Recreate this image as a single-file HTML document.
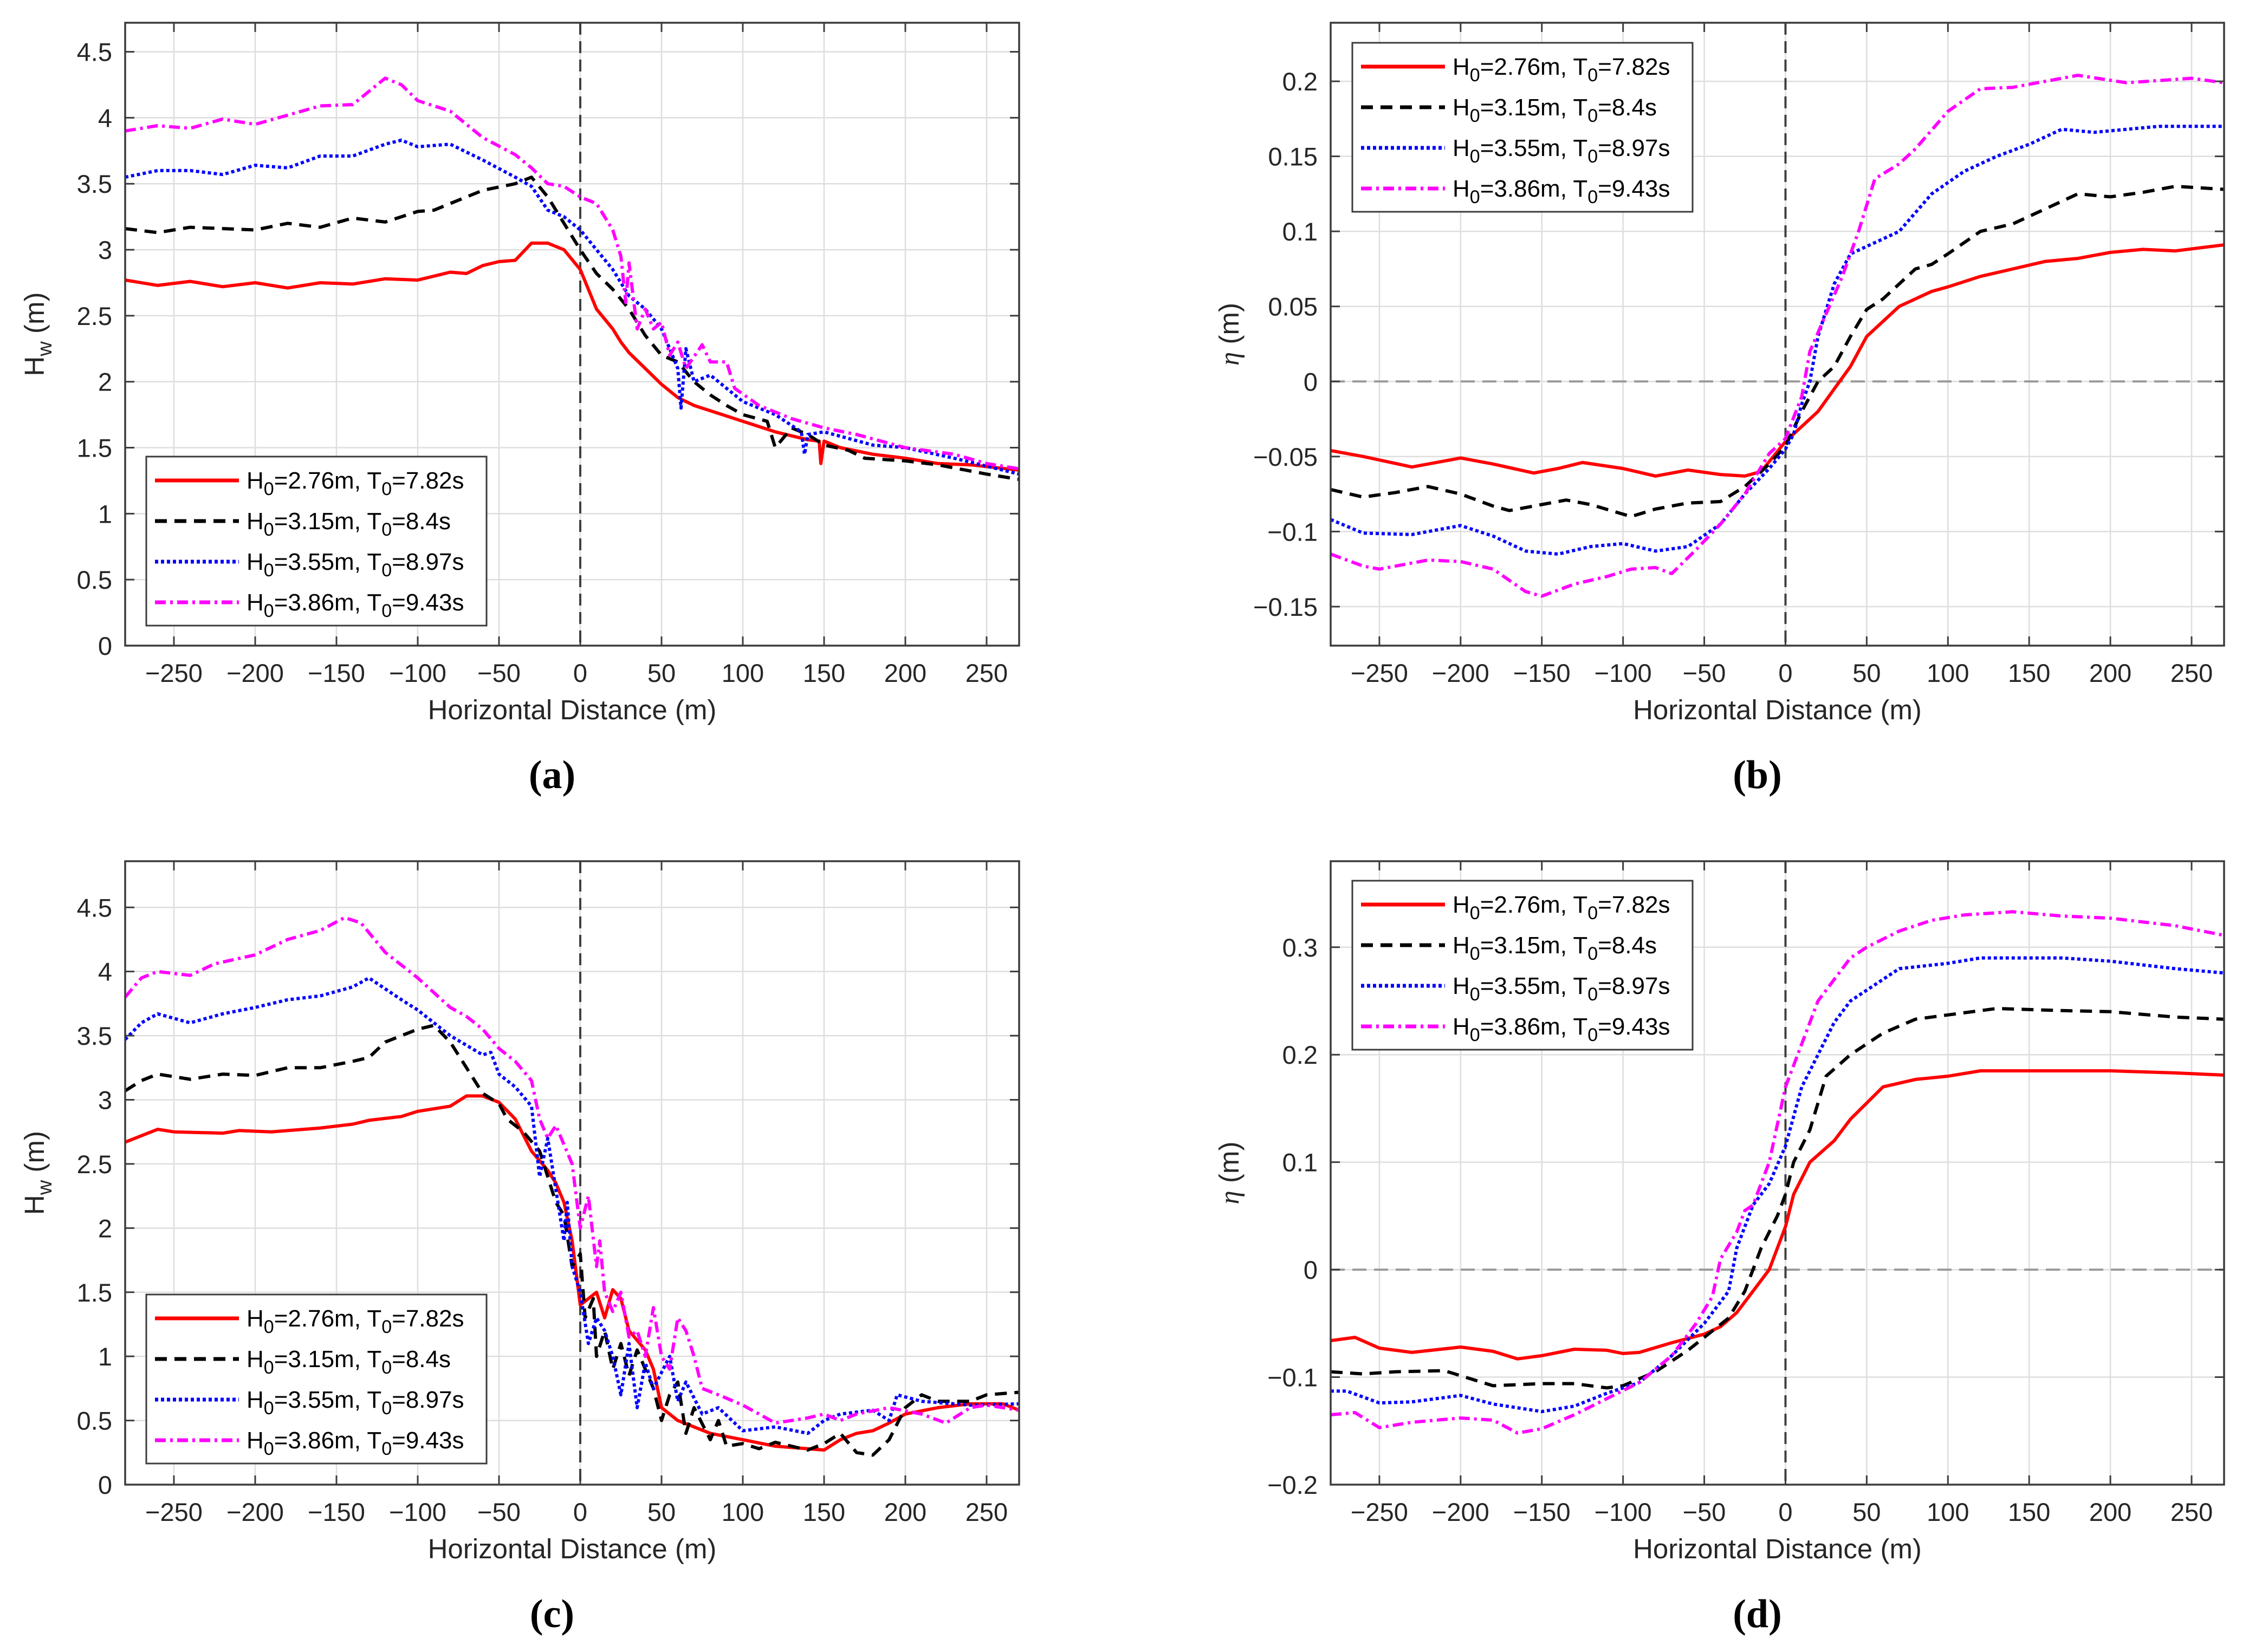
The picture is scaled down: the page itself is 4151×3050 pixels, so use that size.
<!DOCTYPE html>
<html><head><meta charset="utf-8"><style>
html,body{margin:0;padding:0;background:#fff;}
svg{display:block;}
text{font-family:"Liberation Sans",sans-serif;}
</style></head><body>
<svg id="fig" width="4151" height="3050" viewBox="0 0 4151 3050" xmlns="http://www.w3.org/2000/svg"></svg>
<script>
// ---- data (x in m) ----
const aRedX=[-280,-260,-240,-220,-200,-180,-160,-140,-120,-100,-80,-70,-60,-50,-40,-30,-20,-10,0,5,10,20,25,30,40,50,60,70,80,100,120,140,147,148,150,160,180,200,220,240,270];
const aRedY=[2.77,2.73,2.76,2.72,2.75,2.71,2.75,2.74,2.78,2.77,2.83,2.82,2.88,2.91,2.92,3.05,3.05,3.0,2.85,2.7,2.55,2.4,2.3,2.22,2.1,1.98,1.88,1.82,1.78,1.7,1.62,1.56,1.55,1.38,1.55,1.5,1.45,1.42,1.38,1.37,1.33];
const aBlkX=[-280,-260,-240,-200,-180,-160,-140,-120,-100,-90,-80,-60,-40,-30,-20,-10,0,10,20,30,40,50,60,70,80,90,100,115,120,130,140,150,165,175,200,220,250,270];
const aBlkY=[3.16,3.13,3.17,3.15,3.2,3.17,3.24,3.21,3.29,3.3,3.35,3.45,3.5,3.55,3.4,3.2,3.0,2.82,2.7,2.55,2.35,2.2,2.15,2.0,1.9,1.82,1.75,1.7,1.5,1.65,1.6,1.52,1.48,1.42,1.4,1.37,1.3,1.26];
const aBluX=[-280,-260,-240,-220,-200,-180,-160,-140,-120,-110,-100,-80,-60,-40,-30,-20,-10,0,10,20,30,40,50,60,62,65,70,80,90,100,120,136,138,140,150,180,200,230,270];
const aBluY=[3.55,3.6,3.6,3.57,3.64,3.62,3.71,3.71,3.8,3.83,3.78,3.8,3.68,3.55,3.48,3.3,3.25,3.15,3.0,2.85,2.65,2.55,2.4,2.1,1.8,2.25,2.0,2.05,1.95,1.85,1.75,1.62,1.45,1.6,1.62,1.52,1.5,1.42,1.3];
const aMagX=[-280,-260,-240,-220,-200,-180,-160,-140,-130,-120,-110,-100,-80,-60,-40,-30,-20,-10,0,10,20,25,28,30,35,40,45,50,55,60,65,75,80,90,95,110,130,150,170,200,230,250,270];
const aMagY=[3.9,3.94,3.92,3.99,3.95,4.02,4.09,4.1,4.2,4.3,4.25,4.13,4.05,3.85,3.72,3.62,3.5,3.48,3.4,3.35,3.15,2.95,2.6,2.9,2.4,2.55,2.4,2.45,2.2,2.3,2.1,2.28,2.15,2.15,1.95,1.82,1.72,1.65,1.6,1.5,1.45,1.38,1.34];

const bRedX=[-280,-260,-230,-200,-180,-155,-140,-125,-100,-80,-60,-40,-25,-15,0,10,20,30,40,50,60,70,90,100,120,140,160,180,200,220,240,270];
const bRedY=[-0.046,-0.05,-0.057,-0.051,-0.055,-0.061,-0.058,-0.054,-0.058,-0.063,-0.059,-0.062,-0.063,-0.06,-0.04,-0.03,-0.02,-0.005,0.01,0.03,0.04,0.05,0.06,0.063,0.07,0.075,0.08,0.082,0.086,0.088,0.087,0.091];
const bBlkX=[-280,-260,-240,-220,-200,-180,-170,-150,-135,-120,-95,-80,-60,-40,-25,-10,0,10,20,30,40,50,60,70,80,90,100,120,140,160,180,200,220,240,270];
const bBlkY=[-0.072,-0.077,-0.074,-0.07,-0.075,-0.083,-0.086,-0.082,-0.079,-0.082,-0.09,-0.085,-0.081,-0.08,-0.07,-0.055,-0.043,-0.02,0.0,0.01,0.03,0.048,0.055,0.065,0.075,0.078,0.085,0.1,0.105,0.115,0.125,0.123,0.126,0.13,0.128];
const bBluX=[-280,-260,-230,-200,-180,-160,-140,-120,-100,-80,-60,-40,-25,-10,0,5,10,15,20,30,40,50,70,90,110,130,150,170,190,230,270];
const bBluY=[-0.092,-0.101,-0.102,-0.096,-0.103,-0.113,-0.115,-0.11,-0.108,-0.113,-0.11,-0.095,-0.075,-0.058,-0.045,-0.035,-0.015,0.0,0.03,0.065,0.085,0.09,0.1,0.125,0.14,0.15,0.158,0.168,0.166,0.17,0.17];
const bMagX=[-280,-260,-250,-220,-200,-180,-160,-150,-130,-110,-95,-80,-70,-55,-40,-25,-10,0,10,15,25,35,45,55,70,80,100,120,140,160,180,210,250,270];
const bMagY=[-0.115,-0.123,-0.125,-0.119,-0.12,-0.125,-0.14,-0.143,-0.135,-0.13,-0.125,-0.124,-0.128,-0.112,-0.095,-0.075,-0.048,-0.038,-0.01,0.02,0.045,0.07,0.1,0.135,0.145,0.155,0.18,0.195,0.196,0.2,0.204,0.199,0.202,0.199];

const cRedX=[-280,-270,-260,-250,-220,-210,-190,-160,-140,-130,-110,-100,-80,-70,-60,-50,-40,-30,-20,-15,-10,-5,-2,0,5,10,15,20,25,30,40,45,50,60,70,80,100,120,140,150,160,170,180,190,200,220,240,260,270];
const cRedY=[2.67,2.72,2.77,2.75,2.74,2.76,2.75,2.78,2.81,2.84,2.87,2.91,2.95,3.03,3.03,2.98,2.85,2.6,2.45,2.35,2.2,1.9,1.6,1.4,1.45,1.5,1.3,1.52,1.45,1.2,1.05,0.9,0.6,0.5,0.45,0.4,0.35,0.3,0.28,0.27,0.35,0.4,0.42,0.48,0.55,0.6,0.63,0.63,0.58];
const cBlkX=[-280,-270,-260,-240,-220,-200,-180,-160,-140,-130,-120,-100,-90,-80,-70,-60,-50,-45,-35,-25,-20,-15,-10,-5,0,3,8,10,15,20,25,30,35,40,45,50,55,60,65,70,80,85,90,100,110,120,130,140,150,160,170,180,190,200,210,220,240,250,270];
const cBlkY=[3.07,3.15,3.2,3.16,3.2,3.19,3.25,3.25,3.3,3.33,3.45,3.55,3.58,3.45,3.25,3.05,2.97,2.85,2.75,2.6,2.4,2.2,2.1,1.7,1.8,1.3,1.45,1.0,1.2,0.9,1.1,0.85,1.05,0.9,0.75,0.5,0.7,0.8,0.4,0.6,0.35,0.5,0.3,0.32,0.28,0.33,0.3,0.27,0.32,0.4,0.25,0.23,0.35,0.6,0.7,0.65,0.65,0.7,0.72];
const cBluX=[-280,-270,-260,-240,-220,-200,-180,-160,-140,-130,-110,-100,-80,-60,-55,-50,-40,-30,-25,-20,-15,-10,-8,-5,0,5,10,15,20,25,30,35,40,45,55,60,65,75,85,100,120,140,150,160,180,190,195,210,240,270];
const cBluY=[3.47,3.6,3.67,3.6,3.67,3.72,3.78,3.81,3.88,3.95,3.78,3.7,3.5,3.35,3.37,3.2,3.1,2.95,2.4,2.7,2.3,1.9,2.2,1.7,1.5,1.1,1.3,1.2,1.0,0.7,1.1,0.6,0.95,0.75,1.0,0.65,0.8,0.55,0.6,0.42,0.45,0.4,0.5,0.55,0.58,0.5,0.7,0.65,0.62,0.63];
const cMagX=[-280,-270,-260,-240,-225,-200,-180,-160,-145,-135,-120,-100,-80,-70,-60,-50,-40,-30,-25,-20,-15,-5,0,5,10,12,15,20,25,30,35,40,45,50,55,60,65,70,75,85,100,110,120,140,150,160,170,190,210,225,240,250,270];
const cMagY=[3.8,3.95,4.0,3.97,4.06,4.13,4.25,4.32,4.42,4.38,4.15,3.95,3.72,3.65,3.55,3.4,3.3,3.15,2.85,2.7,2.8,2.5,2.0,2.25,1.7,1.9,1.5,1.35,1.5,1.15,1.2,1.0,1.38,1.0,0.9,1.3,1.2,1.0,0.75,0.7,0.62,0.55,0.48,0.52,0.55,0.5,0.55,0.6,0.55,0.48,0.6,0.62,0.58];

const dRedX=[-280,-265,-250,-230,-200,-180,-165,-150,-130,-110,-100,-90,-70,-50,-40,-30,-20,-10,0,5,15,30,40,50,60,80,100,120,160,200,240,270];
const dRedY=[-0.066,-0.063,-0.073,-0.077,-0.072,-0.076,-0.083,-0.08,-0.074,-0.075,-0.078,-0.077,-0.068,-0.06,-0.053,-0.04,-0.02,0.0,0.04,0.07,0.1,0.12,0.14,0.155,0.17,0.177,0.18,0.185,0.185,0.185,0.183,0.181];
const dBlkX=[-280,-260,-240,-210,-180,-150,-130,-110,-100,-80,-60,-45,-35,-25,-15,-5,0,5,15,25,40,60,80,100,130,170,200,240,270];
const dBlkY=[-0.095,-0.097,-0.095,-0.094,-0.108,-0.106,-0.106,-0.11,-0.108,-0.095,-0.075,-0.057,-0.045,-0.02,0.02,0.05,0.07,0.1,0.13,0.18,0.2,0.22,0.233,0.237,0.243,0.241,0.24,0.235,0.233];
const dBluX=[-280,-270,-250,-230,-200,-180,-150,-130,-110,-90,-70,-50,-35,-30,-20,-10,0,10,20,30,40,50,70,100,120,150,170,200,240,270];
const dBluY=[-0.113,-0.113,-0.124,-0.123,-0.117,-0.125,-0.132,-0.127,-0.115,-0.105,-0.08,-0.05,-0.02,0.02,0.06,0.08,0.115,0.17,0.2,0.23,0.25,0.26,0.28,0.285,0.29,0.29,0.29,0.287,0.28,0.276];
const dMagX=[-280,-265,-250,-230,-200,-180,-165,-150,-130,-110,-90,-70,-55,-45,-40,-30,-25,-20,-10,0,10,20,30,40,50,70,90,110,140,170,200,240,270];
const dMagY=[-0.135,-0.133,-0.147,-0.142,-0.138,-0.14,-0.152,-0.148,-0.135,-0.12,-0.105,-0.08,-0.05,-0.025,0.01,0.035,0.055,0.06,0.1,0.17,0.21,0.25,0.27,0.29,0.3,0.315,0.325,0.33,0.333,0.329,0.327,0.32,0.311];

const xTicks=[-250,-200,-150,-100,-50,0,50,100,150,200,250];
const hwTicks=[0,0.5,1,1.5,2,2.5,3,3.5,4,4.5];
const bTicks=[-0.15,-0.1,-0.05,0,0.05,0.1,0.15,0.2];
const dTicks=[-0.2,-0.1,0,0.1,0.2,0.3];
const legendLabels=[["2.76","7.82"],["3.15","8.4"],["3.55","8.97"],["3.86","9.43"]];

const NS="http://www.w3.org/2000/svg";
const fig=document.getElementById('fig');
function mk(tag,attrs,parent){const e=document.createElementNS(NS,tag);for(const k in attrs)e.setAttribute(k,attrs[k]);(parent||fig).appendChild(e);return e;}
const styles=[
 {c:'#ff0000',d:'',n:'red-solid'},
 {c:'#000000',d:'22 14',n:'black-dashed'},
 {c:'#0000ff',d:'6 5',n:'blue-dotted'},
 {c:'#ff00ff',d:'20 8 5 8',n:'magenta-dashdot'}];
function fmt(v){let s=(Math.round(v*1000)/1000).toString();return v<0?'\u2212'+s.slice(1):s;}

function panel(id,L,R,T,B,ymin,ymax,yticks,series,ylab,isEta,leg,plabel){
 const g=mk('g',{});
 
 
 const xmin=-280,xmax=270;
 const X=v=>L+(v-xmin)/(xmax-xmin)*(R-L);
 const Y=v=>B-(v-ymin)/(ymax-ymin)*(B-T);
 // grid
 xTicks.forEach(t=>{const l=mk('line',{x1:X(t),x2:X(t),y1:T,y2:B,stroke:'#dedede','stroke-width':2.5},g);});
 yticks.forEach(t=>{const l=mk('line',{x1:L,x2:R,y1:Y(t),y2:Y(t),stroke:'#dedede','stroke-width':2.5},g);});
 if(isEta){const z=mk('line',{x1:L,x2:R,y1:Y(0),y2:Y(0),stroke:'#9a9a9a','stroke-width':4,'stroke-dasharray':'26 14'},g);}
 const v0=mk('line',{x1:X(0),x2:X(0),y1:T,y2:B,stroke:'#404040','stroke-width':4,'stroke-dasharray':'22 12'},g);
 
 // series
 const clip=mk('clipPath',{id:'clip'+id},g);mk('rect',{x:L,y:T,width:R-L,height:B-T},clip);
 series.forEach((s,i)=>{
  const pts=s[0].map((x,k)=>X(x).toFixed(1)+','+Y(s[1][k]).toFixed(1)).join(' ');
  const p=mk('polyline',{points:pts,fill:'none',stroke:styles[i].c,'stroke-width':6,'stroke-linejoin':'round','clip-path':'url(#clip'+id+')'},g);
  if(styles[i].d)p.setAttribute('stroke-dasharray',styles[i].d);
  
  
 });
 // box
 const bx=mk('rect',{x:L,y:T,width:R-L,height:B-T,fill:'none',stroke:'#3c3c3c','stroke-width':3.5},g);
 
 xTicks.forEach(t=>{
  mk('line',{x1:X(t),x2:X(t),y1:B,y2:B-17,stroke:'#3c3c3c','stroke-width':3},g);
  mk('line',{x1:X(t),x2:X(t),y1:T,y2:T+17,stroke:'#3c3c3c','stroke-width':3},g);
  const tx=mk('text',{x:X(t),y:B+67,'font-size':47,'text-anchor':'middle',fill:'#262626'},g);
  tx.textContent=fmt(t);
 });
 yticks.forEach(t=>{
  mk('line',{x1:L,x2:L+17,y1:Y(t),y2:Y(t),stroke:'#3c3c3c','stroke-width':3},g);
  mk('line',{x1:R,x2:R-17,y1:Y(t),y2:Y(t),stroke:'#3c3c3c','stroke-width':3},g);
  const tx=mk('text',{x:L-24,y:Y(t)+17,'font-size':47,'text-anchor':'end',fill:'#262626'},g);
  tx.textContent=fmt(t);
 });
 const xl=mk('text',{x:(L+R)/2,y:B+136,'font-size':51,'text-anchor':'middle',fill:'#262626'},g);
 xl.textContent='Horizontal Distance (m)';
 const yc=(T+B)/2, yx=isEta?L-170:L-150;
 const yl=mk('text',{x:yx,y:yc,'font-size':51,'text-anchor':'middle',fill:'#262626',transform:'rotate(-90 '+yx+' '+yc+')'},g);
 if(isEta){yl.innerHTML='<tspan font-family="Liberation Serif" font-style="italic">η</tspan> (m)';}
 else{yl.innerHTML='H<tspan font-size="38" dy="14">w</tspan><tspan dy="-14"> (m)</tspan>';}
 
 // legend
 const lg=mk('g',{},g);
 mk('rect',{x:leg[0],y:leg[1],width:628,height:312,fill:'#fff',stroke:'#3c3c3c','stroke-width':3},lg);
 legendLabels.forEach((lb,i)=>{
  const cy=leg[1]+44+i*75;
  const e=mk('g',{},lg);
  const ln=mk('line',{x1:leg[0]+16,x2:leg[0]+171,y1:cy,y2:cy,stroke:styles[i].c,'stroke-width':7},e);
  if(styles[i].d)ln.setAttribute('stroke-dasharray',styles[i].d);
  const t=mk('text',{x:leg[0]+185,y:cy+15,'font-size':44,fill:'#000'},e);
  t.innerHTML='H<tspan font-size="34" dy="12">0</tspan><tspan dy="-12">='+lb[0]+'m, T</tspan><tspan font-size="34" dy="12">0</tspan><tspan dy="-12">='+lb[1]+'s</tspan>';
 });
 const pl=mk('text',{x:(L+R)/2-37,y:B+263,'font-size':74,'text-anchor':'middle','font-weight':'bold',fill:'#000',style:'font-family:"Liberation Serif",serif'},g);
 pl.textContent='('+plabel+')';
}
panel('a',231,1881,42,1192,0,4.72,hwTicks,[[aRedX,aRedY],[aBlkX,aBlkY],[aBluX,aBluY],[aMagX,aMagY]],'Hw',false,[270,843],'a');
panel('b',2456,4105,42,1192,-0.176,0.239,bTicks,[[bRedX,bRedY],[bBlkX,bBlkY],[bBluX,bBluY],[bMagX,bMagY]],'eta',true,[2496,79],'b');
panel('c',231,1881,1590,2741,0,4.86,hwTicks,[[cRedX,cRedY],[cBlkX,cBlkY],[cBluX,cBluY],[cMagX,cMagY]],'Hw',false,[270,2390],'c');
panel('d',2456,4105,1590,2741,-0.2,0.38,dTicks,[[dRedX,dRedY],[dBlkX,dBlkY],[dBluX,dBluY],[dMagX,dMagY]],'eta',true,[2496,1626],'d');
</script>
</body></html>
